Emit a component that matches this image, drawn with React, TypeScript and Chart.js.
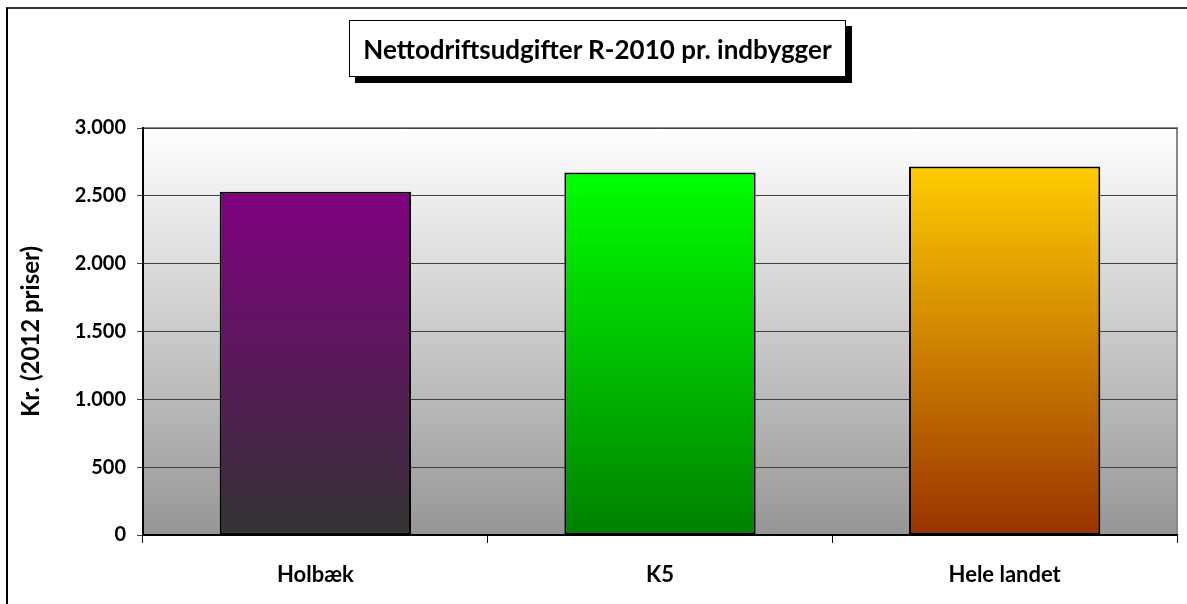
import React, { useEffect, useRef } from "react";
import { Chart, registerables } from "chart.js";

Chart.register(...registerables);

const categories = ["Holbæk", "K5", "Hele landet"];
const values = [2530, 2672, 2716];
const topColors = ["#800080", "#00FF00", "#FFCC00"];
const bottomColors = ["#333333", "#008000", "#993300"];
const yTicks = [0, 500, 1000, 1500, 2000, 2500, 3000];
const titleText = "Nettodriftsudgifter R-2010 pr. indbygger";
const yTitle = "Kr. (2012 priser)";

const FONT = "Lato, 'Open Sans', sans-serif";

const fmt = (v: number) => v.toLocaleString("de-DE");

const plotBg = {
  id: "plotBg",
  beforeDraw(chart: any) {
    const { ctx, chartArea } = chart;
    if (!chartArea) return;
    const g = ctx.createLinearGradient(0, chartArea.top, 0, chartArea.bottom);
    g.addColorStop(0, "#FFFFFF");
    g.addColorStop(1, "#969696");
    ctx.save();
    ctx.fillStyle = g;
    ctx.fillRect(chartArea.left, chartArea.top, chartArea.right - chartArea.left, chartArea.bottom - chartArea.top);
    ctx.strokeStyle = "#888888";
    ctx.lineWidth = 2;
    ctx.beginPath();
    ctx.moveTo(chartArea.left, chartArea.top);
    ctx.lineTo(chartArea.right, chartArea.top);
    ctx.lineTo(chartArea.right, chartArea.bottom);
    ctx.stroke();
    ctx.restore();
  },
};

export default function App() {
  const ref = useRef<HTMLCanvasElement | null>(null);

  useEffect(() => {
    document.body.style.margin = "0";
    const canvas = ref.current;
    if (!canvas) return;
    const chart = new Chart(canvas, {
      type: "bar",
      data: {
        labels: categories,
        datasets: [
          {
            data: values,
            backgroundColor: (c: any) => {
              const chart = c.chart;
              const ca = chart.chartArea;
              const i = c.dataIndex;
              if (!ca || i === undefined) return topColors[i ?? 0];
              const y = chart.scales.y.getPixelForValue(values[i]);
              const g = chart.ctx.createLinearGradient(0, y, 0, ca.bottom);
              g.addColorStop(0, topColors[i]);
              g.addColorStop(1, bottomColors[i]);
              return g;
            },
            borderColor: "#000000",
            borderWidth: 2,
            borderSkipped: false,
            categoryPercentage: 1,
            barPercentage: 0.555,
          },
        ],
      },
      options: {
        animation: false,
        responsive: false,
        maintainAspectRatio: false,
        layout: { padding: { left: 0, top: 128, right: 10, bottom: 0 } },
        plugins: {
          legend: { display: false },
          tooltip: { enabled: false },
          title: { display: false },
        },
        scales: {
          x: {
            afterFit: (s: any) => {
              s.height = 69;
            },
            grid: {
              drawOnChartArea: false,
              drawTicks: true,
              tickLength: 8,
              color: "#000000",
              offset: true,
            },
            border: { color: "#000000", width: 2 },
            ticks: {
              color: "#000000",
              padding: 19,
              font: { family: FONT, size: 22, weight: "bold" },
            },
          },
          y: {
            min: 0,
            max: 3000,
            afterFit: (s: any) => {
              s.width = 143;
            },
            afterBuildTicks: (s: any) => {
              s.ticks = yTicks.map((v) => ({ value: v }));
            },
            grid: {
              color: "#404040",
              lineWidth: 1,
              tickLength: 6,
            },
            border: { color: "#000000", width: 2 },
            ticks: {
              color: "#000000",
              padding: 11,
              callback: (v: any) => fmt(Number(v)),
              font: { family: FONT, size: 20, weight: "bold" },
            },
            title: {
              display: true,
              text: yTitle,
              color: "#000000",
              padding: { top: 17, bottom: 0 },
              font: { family: FONT, size: 24, weight: "bold" },
            },
          },
        },
      },
      plugins: [plotBg],
    } as any);
    return () => chart.destroy();
  }, []);

  return (
    <div style={{ position: "relative", width: 1187, height: 604, overflow: "hidden", background: "#FFFFFF" }}>
      <div
        style={{
          position: "absolute",
          left: 6,
          top: 7,
          width: 1200,
          height: 700,
          borderLeft: "2px solid #000",
          borderTop: "2px solid #333",
          boxSizing: "border-box",
        }}
      />
      <canvas ref={ref} width={1187} height={604} style={{ position: "absolute", left: 0, top: 0, width: 1187, height: 604 }} />
      <div
        style={{
          position: "absolute",
          left: 349,
          top: 20,
          width: 497,
          height: 57,
          border: "1px solid #000",
          background: "#FFFFFF",
          boxShadow: "6px 6px 0 #000",
          boxSizing: "border-box",
          display: "flex",
          alignItems: "center",
          justifyContent: "center",
          fontFamily: FONT,
          fontWeight: "bold",
          fontSize: 26,
          color: "#000",
          whiteSpace: "nowrap",
        }}
      >
        {titleText}
      </div>
    </div>
  );
}
